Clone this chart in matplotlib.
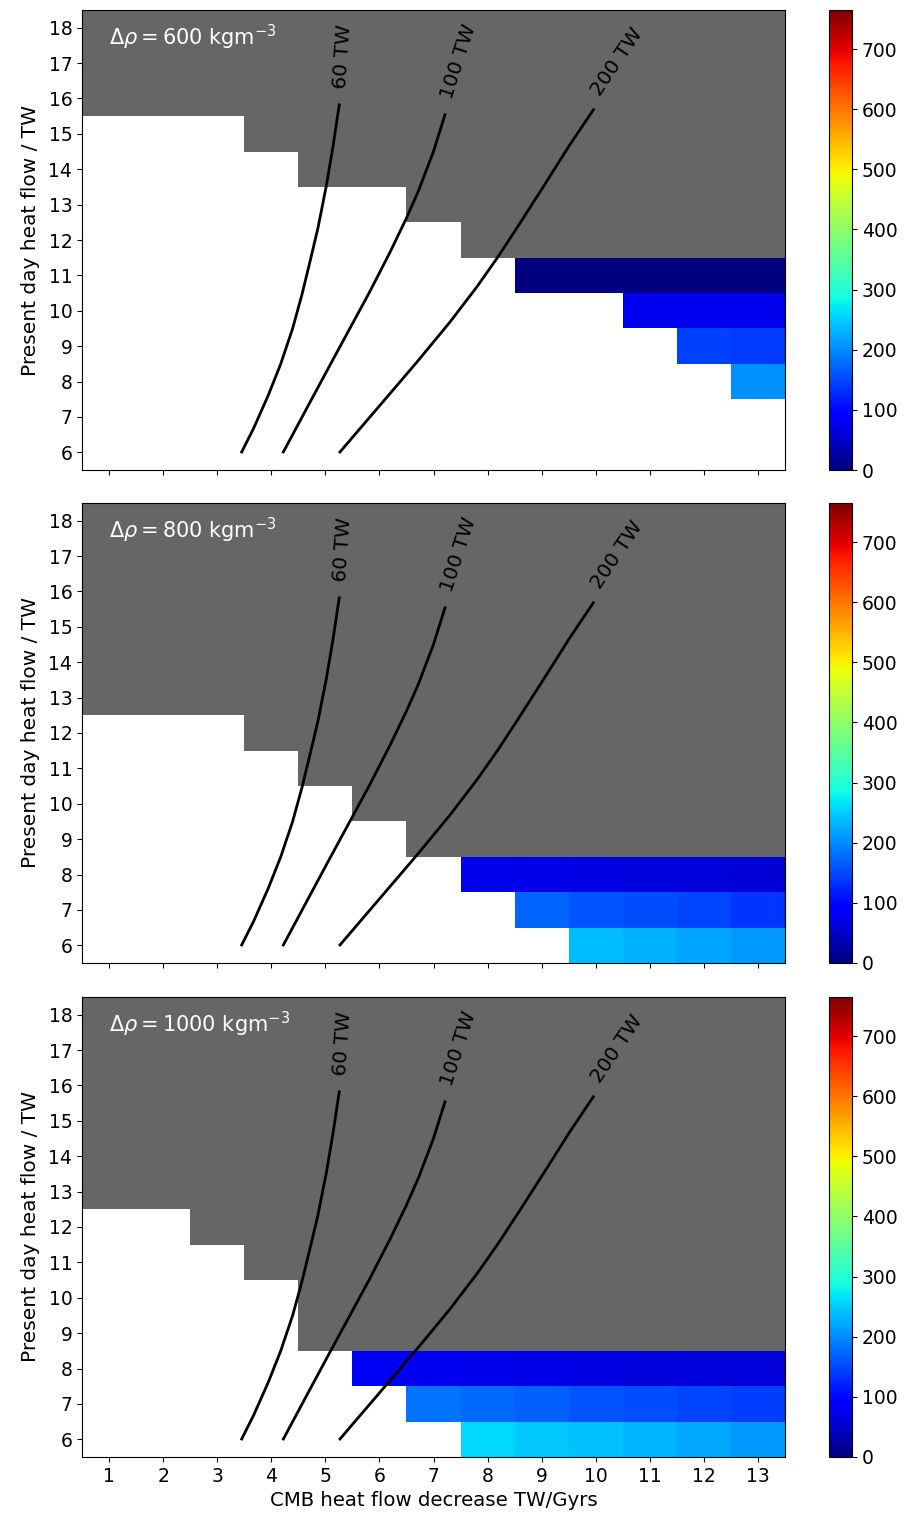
import numpy as np
import matplotlib
matplotlib.use('Agg')
import matplotlib.pyplot as plt
from matplotlib.colors import ListedColormap

# grid of the parameter study
cmb_rate = [1, 2, 3, 4, 5, 6, 7, 8, 9, 10, 11, 12, 13]          # TW/Gyrs
present_q = [6, 7, 8, 9, 10, 11, 12, 13, 14, 15, 16, 17, 18]    # TW

densities = [600, 800, 1000]

# lowest present day heat flow that is excluded (grey), for each CMB rate
grey_from_600 = [16, 16, 16, 15, 14, 14, 13, 12, 12, 12, 12, 12, 12]
grey_from_800 = [13, 13, 13, 12, 11, 10, 9, 9, 9, 9, 9, 9, 9]
grey_from_1000 = [13, 13, 12, 11, 9, 9, 9, 9, 9, 9, 9, 9, 9]

# coloured cells: row (present heat flow) -> first CMB rate, values
cells_600 = {11: (9, [0, 0, 0, 0, 0]),
             10: (11, [77, 77, 77]),
             9: (12, [146, 140]),
             8: (13, [206])}
cells_800 = {8: (8, [72, 70, 67, 64, 61, 58]),
             7: (9, [172, 159, 153, 147, 137]),
             6: (10, [238, 230, 221, 212])}
cells_1000 = {8: (6, [80, 77, 74, 71, 68, 65, 62, 60]),
              7: (7, [185, 175, 168, 161, 154, 148, 142]),
              6: (8, [257, 248, 242, 233, 223, 212])}

# total heat flow curves
c60_x = [3.453, 3.671, 3.944, 4.175, 4.395, 4.566, 4.716, 4.862, 5.018, 5.146, 5.257]
c60_y = [6.01, 6.67, 7.61, 8.50, 9.50, 10.45, 11.39, 12.33, 13.53, 14.69, 15.82]
c100_x = [4.224, 4.655, 5.084, 5.453, 5.822, 6.201, 6.497, 6.717, 6.999, 7.213]
c100_y = [6.01, 7.24, 8.46, 9.50, 10.54, 11.67, 12.61, 13.37, 14.50, 15.54]
c200_x = [5.271, 6.061, 6.699, 7.309, 7.804, 8.186, 8.58, 9.07, 9.52, 9.956]
c200_y = [6.01, 7.42, 8.56, 9.69, 10.68, 11.51, 12.43, 13.60, 14.69, 15.68]
curve_labels = ['60 TW', '100 TW', '200 TW']

fig = plt.figure(figsize=(9.07, 15.19), dpi=100)

xe = np.arange(0.5, 14.0, 1.0)
ye = np.arange(5.5, 19.0, 1.0)
grey_cmap = ListedColormap(['#666666'])

panels = [(grey_from_600, cells_600), (grey_from_800, cells_800), (grey_from_1000, cells_1000)]
bottoms = [1 - 470 / 1519, 1 - 963 / 1519, 1 - 1457 / 1519]
h = 460 / 1519

for i, (grey_from, cells) in enumerate(panels):
    ax = fig.add_axes([82 / 907, bottoms[i], 703 / 907, h])
    cax = fig.add_axes([829 / 907, bottoms[i], 23 / 907, h])

    grey = np.full((len(present_q), len(cmb_rate)), np.nan)
    vals = np.full((len(present_q), len(cmb_rate)), np.nan)
    for j, q0 in enumerate(grey_from):
        for k, q in enumerate(present_q):
            if q >= q0:
                grey[k, j] = 1
    for q, (x0, row) in cells.items():
        k = present_q.index(q)
        j0 = cmb_rate.index(x0)
        for n, v in enumerate(row):
            vals[k, j0 + n] = v

    ax.pcolormesh(xe, ye, np.ma.masked_invalid(grey), cmap=grey_cmap)
    pc = ax.pcolormesh(xe, ye, np.ma.masked_invalid(vals), cmap='jet', vmin=0, vmax=765)

    for cx, cy in [(c60_x, c60_y), (c100_x, c100_y), (c200_x, c200_y)]:
        ax.plot(cx, cy, color='k', lw=2)
    ax.text(5.33, 17.19, curve_labels[0], rotation=86, ha='center', va='center', fontsize=14.5)
    ax.text(7.47, 17.05, curve_labels[1], rotation=72, ha='center', va='center', fontsize=14.5)
    ax.text(10.40, 17.02, curve_labels[2], rotation=56, ha='center', va='center', fontsize=14.5)

    ax.text(1.0, 17.72, r'$\Delta\rho = %d$ kgm$^{-3}$' % densities[i], color='white',
            fontsize=15, va='center')

    ax.set_xlim(0.5, 13.5)
    ax.set_ylim(5.5, 18.5)
    ax.set_xticks(cmb_rate)
    ax.set_yticks(present_q)
    ax.tick_params(labelsize=13.5)
    ax.set_ylabel('Present day heat flow / TW', fontsize=14.5, labelpad=6)
    if i < 2:
        ax.set_xticklabels([])
    else:
        ax.set_xlabel('CMB heat flow decrease TW/Gyrs', fontsize=14.2)

    cb = fig.colorbar(pc, cax=cax, ticks=range(0, 800, 100))
    cb.ax.tick_params(labelsize=13.5)

fig.savefig('out.png', dpi=100)
